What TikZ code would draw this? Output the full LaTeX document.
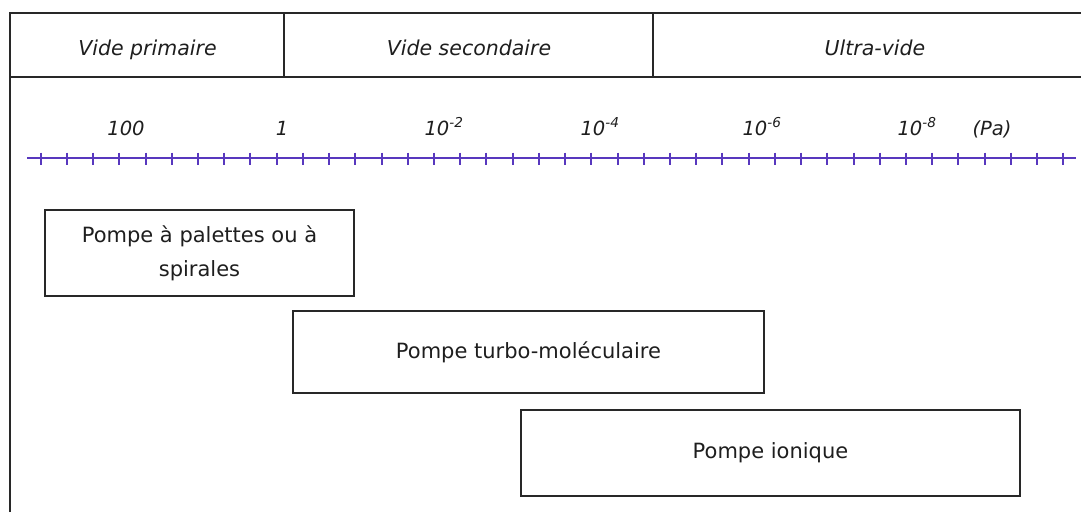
\documentclass[tikz,border=0pt]{standalone}
\usepackage{fontspec}
\setmainfont{DejaVu Sans}
\definecolor{axiscol}{RGB}{88,56,190}
\definecolor{framecol}{RGB}{40,40,40}
\definecolor{textcol}{RGB}{30,30,30}
\begin{document}
\begin{tikzpicture}[x=1pt,y=-1pt,
  frame/.style={draw=framecol,line width=1.3pt},
  pbox/.style={draw=framecol,line width=1.3pt,inner sep=0pt,align=center,text=textcol,
    font=\fontsize{21}{34}\selectfont},
  head/.style={anchor=base,text=textcol,font=\fontsize{20.5}{24}\selectfont\itshape},
  lab/.style={anchor=base,text=textcol,font=\fontsize{19.5}{22}\selectfont\itshape},
  axisline/.style={draw=axiscol,line width=1.8pt},
  tick/.style={draw=axiscol,line width=1.8pt}]
\useasboundingbox (0,0) rectangle (1081,512);
% frame
\coordinate (tl) at (10,13);
\coordinate (tr) at (1081,13);
\coordinate (bl) at (10,512);
\coordinate (hl) at (10,77);
\coordinate (hr) at (1081,77);
\coordinate (d1t) at (284,13);
\coordinate (d1b) at (284,78);
\coordinate (d2t) at (653,13);
\coordinate (d2b) at (653,78);
\draw[frame] (bl) -- (tl) -- (tr);
\draw[frame] (hl) -- (hr);
\draw[frame] (d1t) -- (d1b);
\draw[frame] (d2t) -- (d2b);
% headers
\node[head] (h1) at (147.5,55) {Vide primaire};
\node[head] (h2) at (469,55) {Vide secondaire};
\node[head] (h3) at (875,55) {Ultra-vide};
% axis labels
\node[lab] (l1) at (126,135) {100};
\node[lab] (l2) at (282,135) {1};
\node[lab] (l3) at (444,135) {10\textsuperscript{-2}};
\node[lab] (l4) at (600,135) {10\textsuperscript{-4}};
\node[lab] (l5) at (762,135) {10\textsuperscript{-6}};
\node[lab] (l6) at (917,135) {10\textsuperscript{-8}};
\node[lab] (l7) at (992,135) {(Pa)};
% axis
\coordinate (a0) at (27,158);
\coordinate (a1) at (1076,158);
\draw[axisline] (a0) -- (a1);
\foreach \i in {0,...,39}{
  \pgfmathsetmacro{\tx}{round(40.7+26.22*\i)}
  \draw[tick] (\tx,152.5) -- (\tx,164.5);
}
% pump boxes
\node[pbox,minimum width=309pt,minimum height=86pt] (b1) at (199.5,253) {Pompe à palettes ou à\\spirales};
\node[pbox,minimum width=471pt,minimum height=82pt] (b2) at (528.5,352) {Pompe turbo-moléculaire};
\node[pbox,minimum width=499pt,minimum height=86pt] (b3) at (770.5,453) {Pompe ionique};
\end{tikzpicture}
\end{document}
